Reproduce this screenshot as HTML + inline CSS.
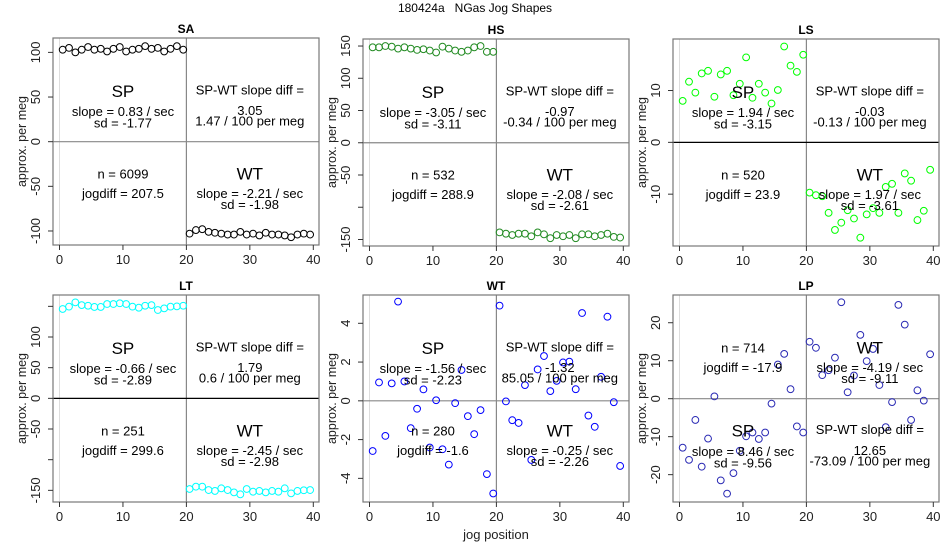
<!DOCTYPE html>
<html><head><meta charset="utf-8"><style>
body{margin:0;background:#fff;}
svg{display:block;font-family:"Liberation Sans",Arial,sans-serif;}
</style></head><body>
<svg id="c" width="950" height="550" xmlns="http://www.w3.org/2000/svg">
<text x="475" y="12" text-anchor="middle" font-size="12" style="white-space:pre">180424a   NGas Jog Shapes</text>
</svg>
<script>
const jogPos = [0.5,1.5,2.5,3.5,4.5,5.5,6.5,7.5,8.5,9.5,10.5,11.5,12.5,13.5,14.5,15.5,16.5,17.5,18.5,19.5,20.5,21.5,22.5,23.5,24.5,25.5,26.5,27.5,28.5,29.5,30.5,31.5,32.5,33.5,34.5,35.5,36.5,37.5,38.5,39.5];
const xTicks = [0,10,20,30,40];
const saVals = [103,105,100,103,106,103,104,101,104,106,101,103,104,107,104,105,101,104,107,103,-103,-99,-98,-101,-102,-103,-104,-104,-101,-104,-103,-105,-102,-104,-104,-105,-107,-104,-103,-104];
const hsVals = [148,148,150,149,146,148,146,144,145,143,140,149,146,143,141,143,148,150,141,141,-139,-141,-143,-141,-141,-145,-139,-142,-148,-143,-145,-143,-148,-142,-142,-145,-143,-141,-146,-147];
const lsVals = [8.0,11.7,9.6,13.3,13.8,8.8,13.1,13.8,9.1,11.3,16.4,8.6,11.3,9.6,7.5,10.1,18.5,14.8,13.6,16.9,-9.7,-10.2,-10.4,-13.6,-16.9,-15.5,-13.1,-14.7,-18.4,-13.9,-12.7,-13.6,-8.6,-8.0,-13.6,-6.0,-7.4,-15.0,-13.2,-5.3];
const ltVals = [145.7,149.5,156.5,152,151,149,149,153.8,153.8,155,153.8,149.5,147.8,151,152,144,146.7,149.5,150,151,-147.8,-144,-144,-149.5,-151,-146.7,-149.5,-153.3,-156.5,-147.8,-152.2,-151,-153.3,-151,-152.2,-146.7,-154.9,-151,-149.9,-149.5];
const wtVals = [-2.59,0.95,-1.81,0.9,5.12,1.0,-1.41,-0.41,0.59,-2.41,0.03,-2.5,-3.29,-0.12,1.59,-0.79,-1.72,-0.48,-3.78,-4.78,4.91,-0.03,-1.0,-1.14,0.81,-3.05,1.62,2.31,0.5,1.03,1.98,2.02,0.6,4.53,-0.76,-1.34,1.24,4.34,-0.07,-3.36];
const lpVals = [-12.9,-16.1,-5.6,-17.9,-10.5,0.6,-21.5,-25.0,-19.6,-13.7,-9.9,-8.9,-10.6,-8.9,-1.3,9.0,11.8,2.5,-7.3,-8.9,15.0,13.4,6.2,7.5,10.8,25.4,1.7,6.1,16.8,9.9,13.1,3.6,-7.5,-0.9,24.7,19.5,-5.6,2.2,-0.5,11.7];
const saTicks = [100,50,0,-50,-100];
const hsTicks = [150,100,50,0,-50,-100,-150];
const hsTickLabels = ["150","100","50","0","-50","","-150"];
const lsTicks = [10,0,-10];
const ltTicks = [150,100,50,0,-50,-100,-150];
const ltTickLabels = ["","100","50","0","-50","","-150"];
const wtTicks = [4,2,0,-2,-4];
const lpTicks = [20,10,0,-10,-20];

const NS = "http://www.w3.org/2000/svg";
const svg = document.getElementById('c');
function mk(tag, attrs, parent){ const e=document.createElementNS(NS,tag); for(const k in attrs) e.setAttribute(k,attrs[k]); (parent||svg).appendChild(e); return e; }
function txt(parent,x,y,s,size,extra){ const t=mk('text',Object.assign({x:x,y:y,'font-size':size,'text-anchor':'middle'},extra||{}),parent); t.textContent=s; return t; }

const panels = [
 {name:'SA',vals:saVals,ticks:saTicks,labels:null,L:53,T:38,ymin:-115.7,ymax:116.1,col:'#000',zero:'#888',
  st:['0.83','-1.77','3.05','1.47','6099','207.5','-2.21','-1.98'],swap:false,xl:false},
 {name:'HS',vals:hsVals,ticks:hsTicks,labels:hsTickLabels,L:363,T:39,ymin:-160.1,ymax:160.9,col:'#228b22',zero:'#888',
  st:['-3.05','-3.11','-0.97','-0.34','532','288.9','-2.08','-2.61'],swap:false,xl:false},
 {name:'LS',vals:lsVals,ticks:lsTicks,labels:null,L:673,T:39,ymin:-20.0,ymax:19.94,col:'#00ff00',zero:'#000',
  st:['1.94','-3.15','-0.03','-0.13','520','23.9','1.97','-3.61'],swap:false,xl:false},
 {name:'LT',vals:ltVals,ticks:ltTicks,labels:ltTickLabels,L:53,T:295,ymin:-169,ymax:168.5,col:'#00ffff',zero:'#000',
  st:['-0.66','-2.89','1.79','0.6','251','299.6','-2.45','-2.98'],swap:false,xl:false},
 {name:'WT',vals:wtVals,ticks:wtTicks,labels:null,L:363,T:295,ymin:-5.22,ymax:5.46,col:'#0000ff',zero:'#888',
  st:['-1.56','-2.23','-1.32','85.05','280','-1.6','-0.25','-2.26'],swap:false,xl:true},
 {name:'LP',vals:lpVals,ticks:lpTicks,labels:null,L:673,T:295,ymin:-27.2,ymax:27.3,col:'#2a2ab4',zero:'#888',
  st:['8.46','-9.56','12.65','-73.09','714','-17.9','-4.19','-9.11'],swap:true,xl:false}
];
const W=266,H=207,FS=13;
panels.forEach(p=>{
  const g=mk('g',{});
  
  
  const sx=v=>p.L+6.5+v*6.345;
  const sy=v=>p.T+(p.ymax-v)/(p.ymax-p.ymin)*H;
  const t=txt(g,p.L+W/2,p.T-5,p.name,12,{'font-weight':'bold'});
   
  mk('line',{x1:sx(0),x2:sx(0),y1:p.T,y2:p.T+H,stroke:'#ddd','stroke-width':1},g);
  mk('line',{x1:sx(20),x2:sx(20),y1:p.T,y2:p.T+H,stroke:'#888','stroke-width':1.2},g);
  mk('line',{x1:p.L,x2:p.L+W,y1:sy(0),y2:sy(0),stroke:p.zero,'stroke-width':1.2},g);
  const box=mk('rect',{x:p.L,y:p.T,width:W,height:H,fill:'none',stroke:'#777','stroke-width':1.2},g);
   
  xTicks.forEach(v=>{
    mk('line',{x1:sx(v),x2:sx(v),y1:p.T+H,y2:p.T+H+5,stroke:'#333'},g);
    const l=txt(g,sx(v),p.T+H+19,String(v),FS,{fill:'#222'});
     
  });
  p.ticks.forEach((v,i)=>{
    mk('line',{x1:p.L,x2:p.L-5,y1:sy(v),y2:sy(v),stroke:'#333'},g);
    const s=p.labels?p.labels[i]:String(v);
    if(s){const l=txt(g,p.L-13,sy(v),s,FS,{fill:'#222',transform:'rotate(-90 '+(p.L-13)+' '+sy(v)+')'});
       }
  });
  const yt=txt(g,p.L-27,p.T+H/2,'approx. per meg',12.5,{fill:'#222',transform:'rotate(-90 '+(p.L-27)+' '+(p.T+H/2)+')'});
   
  jogPos.forEach((x,i)=>{
    const c=mk('circle',{cx:sx(x),cy:sy(p.vals[i]),r:3.4,fill:'none',stroke:p.col,'stroke-width':1},g);
     
  });
  const cl=sx(10), cr=sx(30);
  const top=f=>p.T+f*H, bot=f=>p.T+(f+0.4)*H;
  const spY=p.swap?bot:top, nY=p.swap?top:bot, wtY=p.swap?top:bot, dY=p.swap?bot:top;
  const s=p.st;
  txt(g,cl,spY(0.255)+6,'SP',17);
  txt(g,cl,spY(0.353)+5,'slope = '+s[0]+' / sec',FS);
  txt(g,cl,spY(0.408)+5,'sd = '+s[1],FS);
  txt(g,cr,dY(0.248)+5,'SP-WT slope diff =',FS);
  txt(g,cr,dY(0.348)+5,s[2],FS);
  txt(g,cr,dY(0.399)+5,s[3]+' / 100 per meg',FS);
  txt(g,cl,nY(0.254)+5,'n = '+s[4],FS);
  txt(g,cl,nY(0.348)+5,'jogdiff = '+s[5],FS);
  txt(g,cr,wtY(0.254)+6,'WT',17);
  txt(g,cr,wtY(0.348)+5,'slope = '+s[6]+' / sec',FS);
  txt(g,cr,wtY(0.402)+5,'sd = '+s[7],FS);
  if(p.xl){const xt=txt(g,p.L+W/2,539,'jog position',FS,{fill:'#222'});
     }
});
</script>
</body></html>
